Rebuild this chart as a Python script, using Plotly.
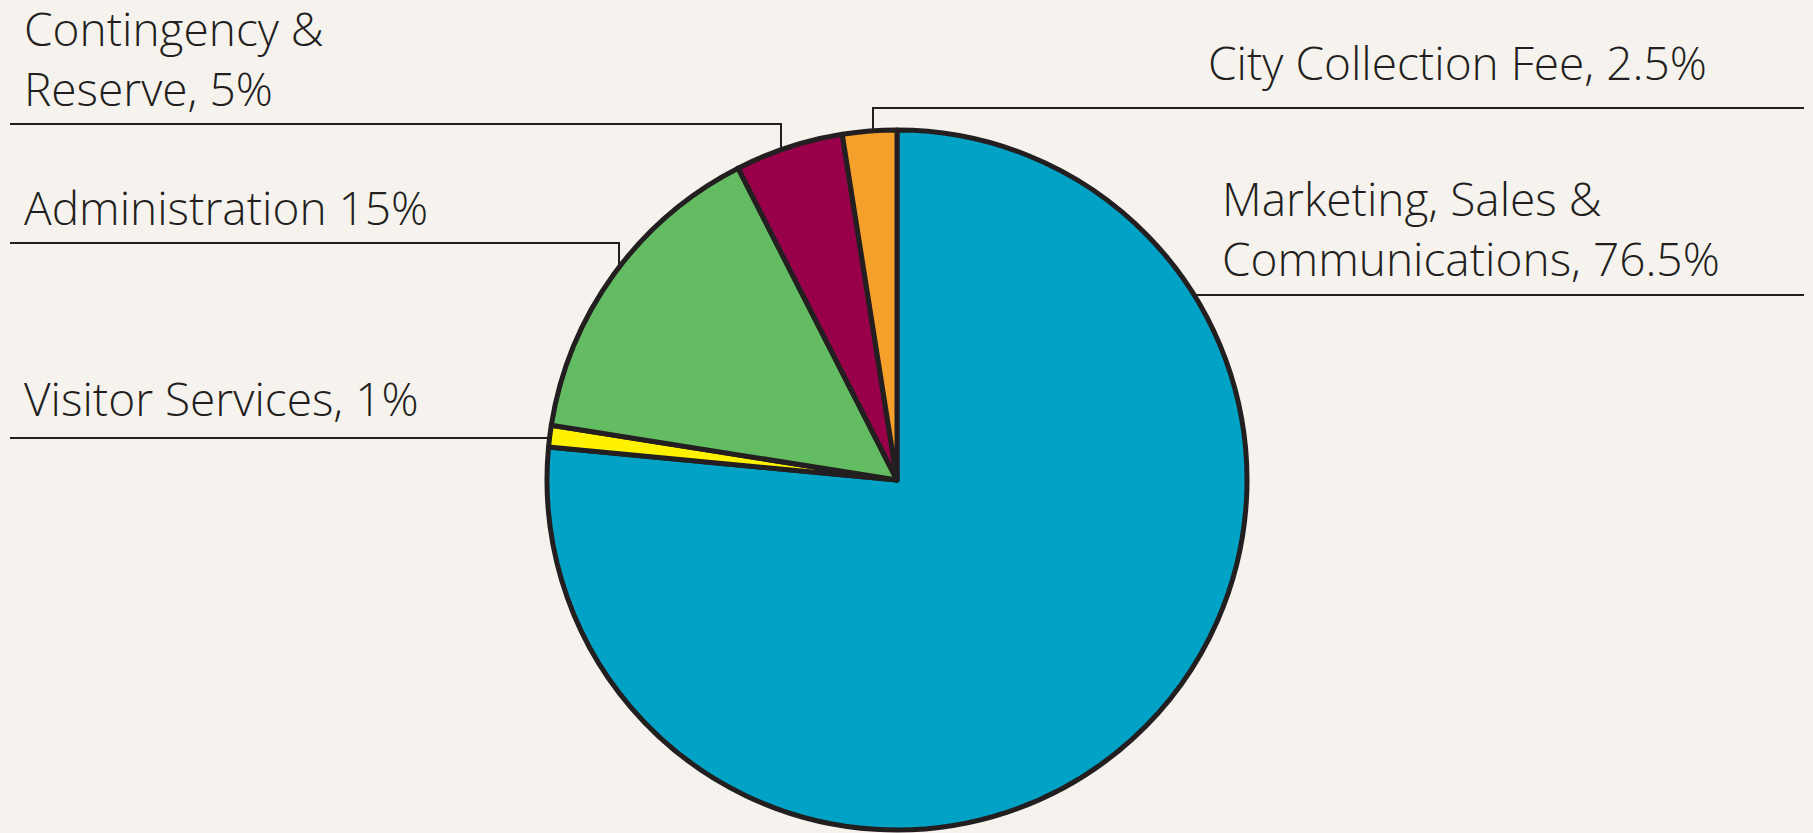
import plotly.graph_objects as go

# slice data, clockwise from 12 o'clock
categories = ["Marketing, Sales & Communications", "Visitor Services", "Administration",
              "Contingency & Reserve", "City Collection Fee"]
shares = [76.5, 1, 15, 5, 2.5]
slice_colors = ["#00a3c6", "#fff200", "#63bc62", "#98004a", "#f5a02a"]

# label texts as printed in the chart
label_texts = ["Marketing, Sales &<br>Communications, 76.5%", "Visitor Services, 1%",
               "Administration 15%", "Contingency &<br>Reserve, 5%", "City Collection Fee, 2.5%"]

W, H = 1813, 833
INK = "#231f20"

fig = go.Figure()

fig.add_trace(go.Pie(
    labels=categories, values=shares,
    marker=dict(colors=slice_colors, line=dict(color=INK, width=5)),
    sort=False, direction="clockwise", rotation=0,
    textinfo="none", hoverinfo="label+percent", showlegend=False,
    domain=dict(x=[547 / W, 1247 / W], y=[1 - 830 / H, 1 - 130 / H]),
))

# label positions (pixel coords: left x, vertical centre) and leader lines
label_pos = [(1220, 228), (22, 398), (22, 207), (22, 58), (1206, 62)]
leaders = [
    [(1804, 295), (1194, 295)],
    [(10, 438), (549, 438)],
    [(10, 243), (619, 243), (619, 267)],
    [(10, 124), (781, 124), (781, 150)],
    [(1804, 108), (873, 108), (873, 131)],
]

annotations = []
for txt, (x, y) in zip(label_texts, label_pos):
    annotations.append(dict(text=txt, x=x, y=y, xref="x", yref="y", xanchor="left",
                            yanchor="middle", align="left", showarrow=False,
                            font=dict(family="Open Sans", size=46, color=INK, weight=300)))

shapes = []
for pts in leaders:
    path = "M " + " L ".join(f"{px},{py}" for px, py in pts)
    shapes.append(dict(type="path", path=path, xref="x", yref="y",
                       line=dict(color=INK, width=2)))

fig.update_layout(
    width=W, height=H,
    margin=dict(l=0, r=0, t=0, b=0),
    paper_bgcolor="#f6f3ef", plot_bgcolor="rgba(0,0,0,0)",
    xaxis=dict(range=[0, W], visible=False, fixedrange=True),
    yaxis=dict(range=[H, 0], visible=False, fixedrange=True),
    annotations=annotations, shapes=shapes,
)

fig.write_html("out.html", config={"displayModeBar": False},
               post_script="document.body.style.margin='0px';")
